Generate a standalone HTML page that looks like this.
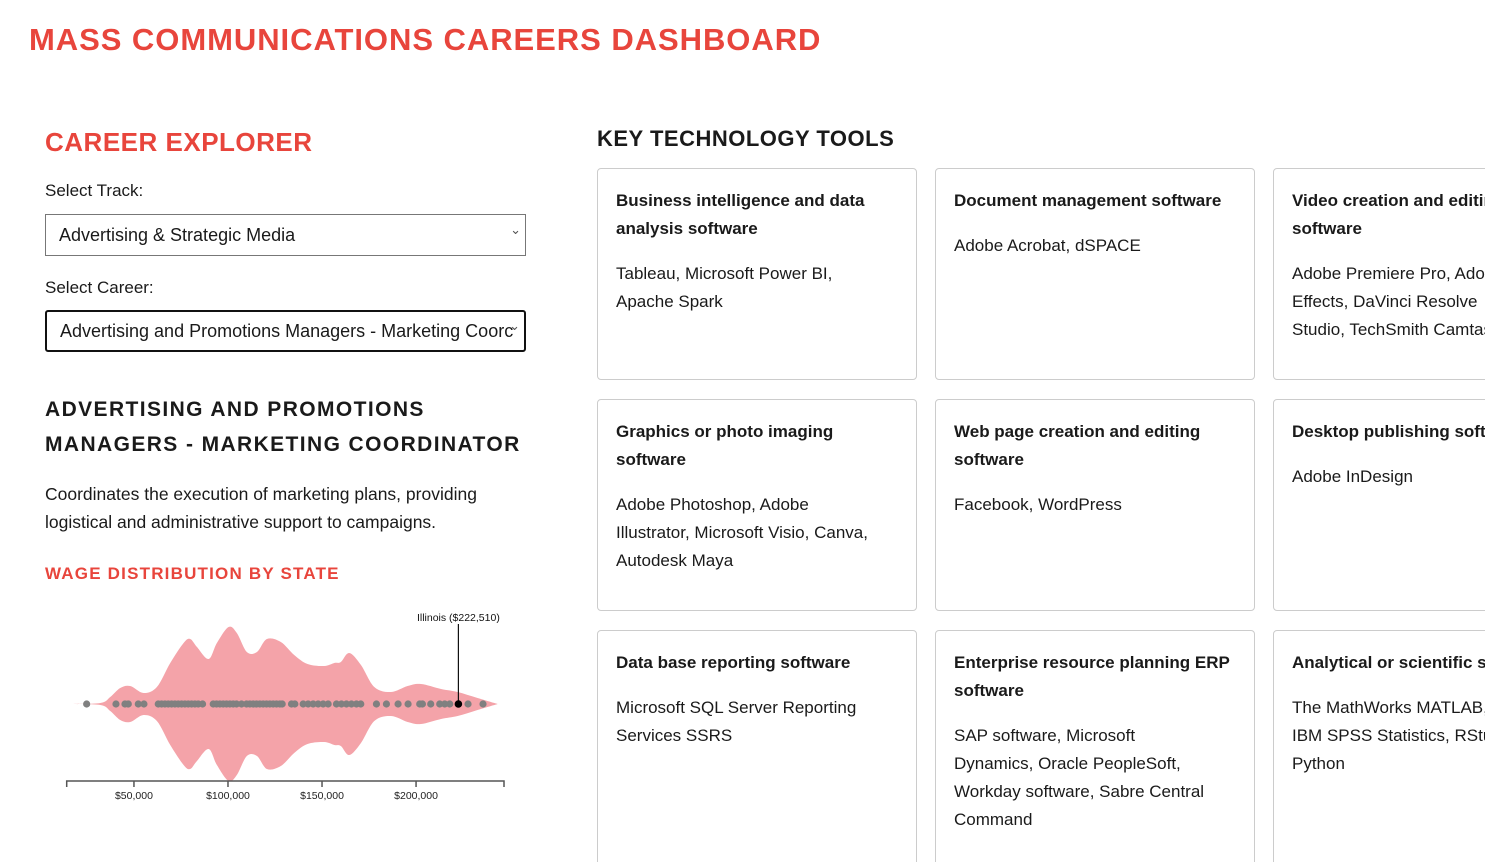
<!DOCTYPE html>
<html><head><meta charset="utf-8"><style>
html,body{margin:0;width:1485px;height:862px;overflow:hidden;background:#fff}
#wrap{position:relative;width:1485px;height:862px;overflow:hidden;font-family:"Liberation Sans",sans-serif;color:#1a1a1a}
.abs{position:absolute}
h1{position:absolute;left:29px;top:22px;margin:0;font-size:31px;font-weight:900;color:#e8453c;letter-spacing:0.95px;white-space:nowrap}
.red{color:#e8453c;font-weight:bold}
.sel{position:absolute;left:45px;width:481px;height:42px;border:1px solid #777;box-sizing:border-box;font-size:18px;line-height:40px;padding-left:13px;white-space:nowrap;overflow:hidden}
.sel:after{content:"⌄";position:absolute;right:4px;top:-5px;font-size:13px;color:#555}
.card{position:absolute;width:320px;height:212px;border:1px solid #ccc;border-radius:4px;box-sizing:border-box;padding:18px 18px;font-size:17px;line-height:28px;overflow:hidden;white-space:nowrap}
.card b{display:block;margin-bottom:17px}
</style></head><body><div id="wrap">
<h1>MASS COMMUNICATIONS CAREERS DASHBOARD</h1>
<div class="abs red" style="left:45px;top:127px;font-size:26px;letter-spacing:0.5px">CAREER EXPLORER</div>
<div class="abs" style="left:45px;top:181px;font-size:17px">Select Track:</div>
<div class="sel" style="top:214px">Advertising &amp; Strategic Media</div>
<div class="abs" style="left:45px;top:278px;font-size:17px">Select Career:</div>
<div class="sel" style="top:310px;border:2px solid #111;border-radius:3px;line-height:38px;padding-right:30px">Advertising and Promotions Managers - Marketing Coorc</div>
<div class="abs" style="left:45px;top:392px;font-size:21px;font-weight:bold;line-height:35px;letter-spacing:1.4px;white-space:nowrap">ADVERTISING AND PROMOTIONS<br>MANAGERS - MARKETING COORDINATOR</div>
<div class="abs" style="left:45px;top:480px;font-size:17.5px;line-height:28px;white-space:nowrap">Coordinates the execution of marketing plans, providing<br>logistical and administrative support to campaigns.</div>
<div class="abs red" style="left:45px;top:564px;font-size:17px;letter-spacing:1.2px">WAGE DISTRIBUTION BY STATE</div>
<svg class="abs" style="left:0;top:590px" width="560" height="230" id="chart"></svg>
<div class="abs" style="left:597px;top:126px;font-size:22px;font-weight:bold;letter-spacing:0.5px">KEY TECHNOLOGY TOOLS</div>
<div class="card" style="left:597px;top:168px"><b>Business intelligence and data<br>analysis software</b>Tableau, Microsoft Power BI,<br>Apache Spark</div>
<div class="card" style="left:935px;top:168px"><b>Document management software</b>Adobe Acrobat, dSPACE</div>
<div class="card" style="left:1273px;top:168px"><b>Video creation and editing<br>software</b>Adobe Premiere Pro, Adobe After<br>Effects, DaVinci Resolve<br>Studio, TechSmith Camtasia</div>
<div class="card" style="left:597px;top:399px"><b>Graphics or photo imaging<br>software</b>Adobe Photoshop, Adobe<br>Illustrator, Microsoft Visio, Canva,<br>Autodesk Maya</div>
<div class="card" style="left:935px;top:399px"><b>Web page creation and editing<br>software</b>Facebook, WordPress</div>
<div class="card" style="left:1273px;top:399px"><b>Desktop publishing software</b>Adobe InDesign</div>
<div class="card" style="left:597px;top:630px;height:260px"><b>Data base reporting software</b>Microsoft SQL Server Reporting<br>Services SSRS</div>
<div class="card" style="left:935px;top:630px;height:260px"><b>Enterprise resource planning ERP<br>software</b>SAP software, Microsoft<br>Dynamics, Oracle PeopleSoft,<br>Workday software, Sabre Central<br>Command</div>
<div class="card" style="left:1273px;top:630px;height:260px"><b>Analytical or scientific software</b>The MathWorks MATLAB,<br>IBM SPSS Statistics, RStudio,<br>Python</div>
</div>
<script>
const wages=[24850,40440,45220,46990,52300,55310,62930,64700,66470,68240,70010,71780,73550,75330,77100,78870,80640,82410,84180,86480,92150,93920,95690,97460,99230,101000,102780,104550,107200,109860,111630,113400,115170,116940,118710,120490,122260,124030,125800,127570,128810,133770,135540,139970,142620,145280,147940,150590,153250,157680,160330,162990,165640,168300,170600,178930,184240,190440,195750,201950,203370,207800,212580,215240,217890,222510,227630,235600];
const densityWage=[15400,32100,37400,42700,48000,55100,62200,69300,76400,79900,83500,89700,94100,100300,104700,110000,115400,120700,128100,135200,142300,151200,156500,160000,164500,170700,177800,186700,195500,202600,213300,222100,232700,243400];
const densityVal=[0,1,7,16,18,11,17,41,61,65,57,45,61,77,71,52,52,65,62,49,40,38,41,42,51,39,17,12,18,20,15,12,6,0];
const ticks=[50000,100000,150000,200000];
const tickLabels=["$50,000","$100,000","$150,000","$200,000"];
const highlightIndex=65, highlightLabel="Illinois ($222,510)";
const NS="http://www.w3.org/2000/svg", svg=document.getElementById('chart');
const x0=66.7,x1=504,d0=14240,d1=246760,cy=114,axY=191;
const x=v=>x0+(v-d0)/(d1-d0)*(x1-x0);
const yScale=d=>d*1.0;
function mk(t,a){const e=document.createElementNS(NS,t);for(const k in a)e.setAttribute(k,a[k]);svg.appendChild(e);return e;}
const upperPts=[],lowerPts=[];
densityWage.forEach((w,i)=>{upperPts.push([x(w),cy-yScale(densityVal[i])]);lowerPts.push([x(w),cy+yScale(densityVal[i])]);});
function cr(p,move){let s=(move?"M":" L")+p[0][0]+","+p[0][1];const n=p.length;
for(let i=0;i<n-1;i++){const p0=p[Math.max(i-1,0)],p1=p[i],p2=p[i+1],p3=p[Math.min(i+2,n-1)];
const c1=[p1[0]+(p2[0]-p0[0])/6,p1[1]+(p2[1]-p0[1])/6],c2=[p2[0]-(p3[0]-p1[0])/6,p2[1]-(p3[1]-p1[1])/6];
s+=` C${c1[0]},${c1[1]} ${c2[0]},${c2[1]} ${p2[0]},${p2[1]}`;}return s;}
const dpath=cr(upperPts,true)+cr(lowerPts.slice().reverse(),false)+" Z";
const vio=mk('path',{d:dpath,fill:"#f4a3a9"});


wages.forEach((w,i)=>{if(i===highlightIndex)return;const c=mk('circle',{cx:x(w),cy:cy,r:3.6,fill:"#808080"});

});
const hx=x(wages[highlightIndex]);
const ln=mk('line',{x1:hx,x2:hx,y1:34,y2:cy,stroke:"#111","stroke-width":1.2});


const hc=mk('circle',{cx:hx,cy:cy,r:3.8,fill:"#000"});


const ht=mk('text',{x:hx,y:31,"text-anchor":"middle","font-size":10.5,fill:"#111","font-family":"Liberation Sans,sans-serif"});ht.textContent=highlightLabel;


const ax=mk('path',{d:`M${x0},${axY+6}V${axY}H${x1}V${axY+6}`,fill:"none",stroke:"#555","stroke-width":1.5});


ticks.forEach((t,i)=>{const tx=x(t);const l=mk('line',{x1:tx,x2:tx,y1:axY,y2:axY+6,stroke:"#555","stroke-width":1.5});


const tt=mk('text',{x:tx,y:axY+18,"text-anchor":"middle","font-size":10.5,fill:"#222","font-family":"Liberation Sans,sans-serif"});tt.textContent=tickLabels[i];

});
</script>
</body></html>
